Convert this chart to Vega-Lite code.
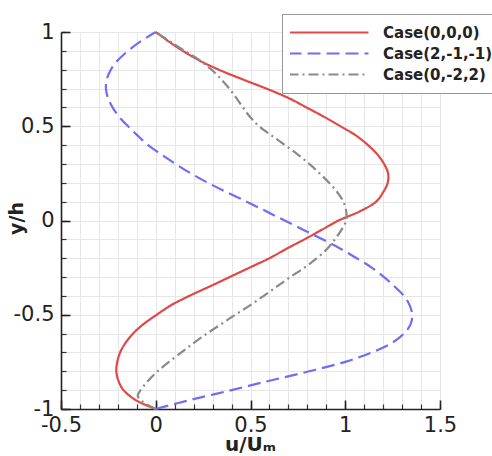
{
  "$schema": "https://vega.github.io/schema/vega-lite/v6.json",
  "width": 379,
  "height": 377,
  "autosize": "none",
  "padding": {"left": 61, "top": 32, "right": 52, "bottom": 47},
  "background": "white",
  "config": {"view": {"stroke": null}},
  "data": {"values": [
    {"case": "Case(0,0,0)", "y": 1.0, "u": 0},
    {"case": "Case(0,0,0)", "y": 0.95, "u": 0.068},
    {"case": "Case(0,0,0)", "y": 0.9, "u": 0.143},
    {"case": "Case(0,0,0)", "y": 0.85, "u": 0.228},
    {"case": "Case(0,0,0)", "y": 0.8, "u": 0.333},
    {"case": "Case(0,0,0)", "y": 0.75, "u": 0.455},
    {"case": "Case(0,0,0)", "y": 0.7, "u": 0.583},
    {"case": "Case(0,0,0)", "y": 0.65, "u": 0.70},
    {"case": "Case(0,0,0)", "y": 0.6, "u": 0.795},
    {"case": "Case(0,0,0)", "y": 0.55, "u": 0.888},
    {"case": "Case(0,0,0)", "y": 0.5, "u": 0.975},
    {"case": "Case(0,0,0)", "y": 0.45, "u": 1.058},
    {"case": "Case(0,0,0)", "y": 0.4, "u": 1.12},
    {"case": "Case(0,0,0)", "y": 0.35, "u": 1.17},
    {"case": "Case(0,0,0)", "y": 0.3, "u": 1.205},
    {"case": "Case(0,0,0)", "y": 0.25, "u": 1.226},
    {"case": "Case(0,0,0)", "y": 0.2, "u": 1.224},
    {"case": "Case(0,0,0)", "y": 0.15, "u": 1.2},
    {"case": "Case(0,0,0)", "y": 0.1, "u": 1.163},
    {"case": "Case(0,0,0)", "y": 0.05, "u": 1.08},
    {"case": "Case(0,0,0)", "y": 0.0, "u": 0.965},
    {"case": "Case(0,0,0)", "y": -0.05, "u": 0.875},
    {"case": "Case(0,0,0)", "y": -0.1, "u": 0.785},
    {"case": "Case(0,0,0)", "y": -0.15, "u": 0.69},
    {"case": "Case(0,0,0)", "y": -0.2, "u": 0.6},
    {"case": "Case(0,0,0)", "y": -0.25, "u": 0.495},
    {"case": "Case(0,0,0)", "y": -0.3, "u": 0.39},
    {"case": "Case(0,0,0)", "y": -0.35, "u": 0.285},
    {"case": "Case(0,0,0)", "y": -0.4, "u": 0.177},
    {"case": "Case(0,0,0)", "y": -0.45, "u": 0.08},
    {"case": "Case(0,0,0)", "y": -0.5, "u": 0.005},
    {"case": "Case(0,0,0)", "y": -0.55, "u": -0.065},
    {"case": "Case(0,0,0)", "y": -0.6, "u": -0.12},
    {"case": "Case(0,0,0)", "y": -0.65, "u": -0.16},
    {"case": "Case(0,0,0)", "y": -0.7, "u": -0.188},
    {"case": "Case(0,0,0)", "y": -0.75, "u": -0.203},
    {"case": "Case(0,0,0)", "y": -0.8, "u": -0.208},
    {"case": "Case(0,0,0)", "y": -0.85, "u": -0.197},
    {"case": "Case(0,0,0)", "y": -0.9, "u": -0.17},
    {"case": "Case(0,0,0)", "y": -0.95, "u": -0.11},
    {"case": "Case(0,0,0)", "y": -0.98, "u": -0.05},
    {"case": "Case(0,0,0)", "y": -1.0, "u": 0},

    {"case": "Case(2,-1,-1)", "y": 1.0, "u": 0},
    {"case": "Case(2,-1,-1)", "y": 0.95, "u": -0.08},
    {"case": "Case(2,-1,-1)", "y": 0.9, "u": -0.146},
    {"case": "Case(2,-1,-1)", "y": 0.85, "u": -0.2},
    {"case": "Case(2,-1,-1)", "y": 0.8, "u": -0.237},
    {"case": "Case(2,-1,-1)", "y": 0.75, "u": -0.258},
    {"case": "Case(2,-1,-1)", "y": 0.7, "u": -0.263},
    {"case": "Case(2,-1,-1)", "y": 0.65, "u": -0.252},
    {"case": "Case(2,-1,-1)", "y": 0.6, "u": -0.228},
    {"case": "Case(2,-1,-1)", "y": 0.55, "u": -0.193},
    {"case": "Case(2,-1,-1)", "y": 0.5, "u": -0.146},
    {"case": "Case(2,-1,-1)", "y": 0.45, "u": -0.095},
    {"case": "Case(2,-1,-1)", "y": 0.4, "u": -0.04},
    {"case": "Case(2,-1,-1)", "y": 0.35, "u": 0.03},
    {"case": "Case(2,-1,-1)", "y": 0.3, "u": 0.105},
    {"case": "Case(2,-1,-1)", "y": 0.25, "u": 0.185},
    {"case": "Case(2,-1,-1)", "y": 0.2, "u": 0.275},
    {"case": "Case(2,-1,-1)", "y": 0.15, "u": 0.375},
    {"case": "Case(2,-1,-1)", "y": 0.1, "u": 0.48},
    {"case": "Case(2,-1,-1)", "y": 0.05, "u": 0.58},
    {"case": "Case(2,-1,-1)", "y": 0.0, "u": 0.68},
    {"case": "Case(2,-1,-1)", "y": -0.05, "u": 0.78},
    {"case": "Case(2,-1,-1)", "y": -0.1, "u": 0.88},
    {"case": "Case(2,-1,-1)", "y": -0.15, "u": 0.975},
    {"case": "Case(2,-1,-1)", "y": -0.2, "u": 1.06},
    {"case": "Case(2,-1,-1)", "y": -0.25, "u": 1.14},
    {"case": "Case(2,-1,-1)", "y": -0.3, "u": 1.205},
    {"case": "Case(2,-1,-1)", "y": -0.35, "u": 1.26},
    {"case": "Case(2,-1,-1)", "y": -0.4, "u": 1.31},
    {"case": "Case(2,-1,-1)", "y": -0.45, "u": 1.34},
    {"case": "Case(2,-1,-1)", "y": -0.5, "u": 1.353},
    {"case": "Case(2,-1,-1)", "y": -0.55, "u": 1.345},
    {"case": "Case(2,-1,-1)", "y": -0.6, "u": 1.31},
    {"case": "Case(2,-1,-1)", "y": -0.65, "u": 1.245},
    {"case": "Case(2,-1,-1)", "y": -0.7, "u": 1.14},
    {"case": "Case(2,-1,-1)", "y": -0.75, "u": 1.0},
    {"case": "Case(2,-1,-1)", "y": -0.8, "u": 0.81},
    {"case": "Case(2,-1,-1)", "y": -0.85, "u": 0.6},
    {"case": "Case(2,-1,-1)", "y": -0.9, "u": 0.4},
    {"case": "Case(2,-1,-1)", "y": -0.95, "u": 0.19},
    {"case": "Case(2,-1,-1)", "y": -1.0, "u": 0},

    {"case": "Case(0,-2,2)", "y": 1.0, "u": 0},
    {"case": "Case(0,-2,2)", "y": 0.95, "u": 0.075},
    {"case": "Case(0,-2,2)", "y": 0.9, "u": 0.152},
    {"case": "Case(0,-2,2)", "y": 0.85, "u": 0.232},
    {"case": "Case(0,-2,2)", "y": 0.8, "u": 0.295},
    {"case": "Case(0,-2,2)", "y": 0.75, "u": 0.345},
    {"case": "Case(0,-2,2)", "y": 0.7, "u": 0.388},
    {"case": "Case(0,-2,2)", "y": 0.65, "u": 0.425},
    {"case": "Case(0,-2,2)", "y": 0.6, "u": 0.46},
    {"case": "Case(0,-2,2)", "y": 0.55, "u": 0.497},
    {"case": "Case(0,-2,2)", "y": 0.5, "u": 0.545},
    {"case": "Case(0,-2,2)", "y": 0.45, "u": 0.612},
    {"case": "Case(0,-2,2)", "y": 0.4, "u": 0.682},
    {"case": "Case(0,-2,2)", "y": 0.35, "u": 0.75},
    {"case": "Case(0,-2,2)", "y": 0.3, "u": 0.81},
    {"case": "Case(0,-2,2)", "y": 0.25, "u": 0.865},
    {"case": "Case(0,-2,2)", "y": 0.2, "u": 0.915},
    {"case": "Case(0,-2,2)", "y": 0.15, "u": 0.958},
    {"case": "Case(0,-2,2)", "y": 0.1, "u": 0.99},
    {"case": "Case(0,-2,2)", "y": 0.05, "u": 1.005},
    {"case": "Case(0,-2,2)", "y": 0.0, "u": 1.005},
    {"case": "Case(0,-2,2)", "y": -0.05, "u": 0.98},
    {"case": "Case(0,-2,2)", "y": -0.1, "u": 0.945},
    {"case": "Case(0,-2,2)", "y": -0.15, "u": 0.905},
    {"case": "Case(0,-2,2)", "y": -0.2, "u": 0.85},
    {"case": "Case(0,-2,2)", "y": -0.25, "u": 0.785},
    {"case": "Case(0,-2,2)", "y": -0.3, "u": 0.71},
    {"case": "Case(0,-2,2)", "y": -0.35, "u": 0.64},
    {"case": "Case(0,-2,2)", "y": -0.4, "u": 0.57},
    {"case": "Case(0,-2,2)", "y": -0.45, "u": 0.497},
    {"case": "Case(0,-2,2)", "y": -0.5, "u": 0.42},
    {"case": "Case(0,-2,2)", "y": -0.55, "u": 0.345},
    {"case": "Case(0,-2,2)", "y": -0.6, "u": 0.27},
    {"case": "Case(0,-2,2)", "y": -0.65, "u": 0.2},
    {"case": "Case(0,-2,2)", "y": -0.7, "u": 0.135},
    {"case": "Case(0,-2,2)", "y": -0.75, "u": 0.07},
    {"case": "Case(0,-2,2)", "y": -0.8, "u": 0.01},
    {"case": "Case(0,-2,2)", "y": -0.85, "u": -0.04},
    {"case": "Case(0,-2,2)", "y": -0.9, "u": -0.08},
    {"case": "Case(0,-2,2)", "y": -0.93, "u": -0.095},
    {"case": "Case(0,-2,2)", "y": -0.96, "u": -0.07},
    {"case": "Case(0,-2,2)", "y": -1.0, "u": 0}
  ]},
  "layer": [
    {
      "mark": {"type": "point", "opacity": 0},
      "encoding": {
        "x": {"field": "u", "type": "quantitative",
          "scale": {"domain": [-0.5, 1.5], "nice": false, "zero": false},
          "axis": {"orient": "bottom", "values": [-0.5,-0.4,-0.3,-0.2,-0.1,0,0.1,0.2,0.3,0.4,0.5,0.6,0.7,0.8,0.9,1,1.1,1.2,1.3,1.4,1.5],
            "labels": false, "title": null, "domain": false, "grid": true, "gridColor": "#e6e6e6", "gridWidth": 1,
            "ticks": true, "tickSize": -5, "tickColor": "#333", "tickWidth": 1.2}},
        "y": {"field": "y", "type": "quantitative",
          "scale": {"domain": [-1, 1], "nice": false, "zero": false},
          "axis": {"orient": "left", "values": [-1,-0.9,-0.8,-0.7,-0.6,-0.5,-0.4,-0.3,-0.2,-0.1,0,0.1,0.2,0.3,0.4,0.5,0.6,0.7,0.8,0.9,1],
            "labels": false, "title": null, "domain": false, "grid": true, "gridColor": "#e6e6e6", "gridWidth": 1,
            "ticks": true, "tickSize": -5, "tickColor": "#333", "tickWidth": 1.2}}
      }
    },
    {
      "mark": {"type": "line", "strokeWidth": 2.2, "interpolate": "catmull-rom"},
      "encoding": {
        "x": {"field": "u", "type": "quantitative",
          "axis": {"orient": "bottom", "values": [-0.5, 0, 0.5, 1, 1.5], "grid": false,
            "domain": true, "domainColor": "#222", "domainWidth": 1.6,
            "ticks": true, "tickSize": -9, "tickColor": "#222", "tickWidth": 1.6,
            "labelExpr": "'' + datum.value",
            "labelFont": "DejaVu Sans", "labelFontSize": 21, "labelColor": "#222", "labelPadding": 14,
            "labelFlush": false, "labelOverlap": false,
            "title": "u/Uₘ", "titleFont": "DejaVu Sans", "titleFontSize": 20, "titleFontWeight": "bold", "titleColor": "#222",
            "titleX": 189, "titleY": 41, "titleBaseline": "alphabetic", "titleAlign": "center"}},
        "y": {"field": "y", "type": "quantitative",
          "axis": {"orient": "left", "values": [-1, -0.5, 0, 0.5, 1], "grid": false,
            "domain": true, "domainColor": "#222", "domainWidth": 1.6,
            "ticks": true, "tickSize": -9, "tickColor": "#222", "tickWidth": 1.6,
            "labelExpr": "'' + datum.value",
            "labelFont": "DejaVu Sans", "labelFontSize": 21, "labelColor": "#222", "labelPadding": 16,
            "labelFlush": false, "labelOverlap": false,
            "title": "y/h", "titleFont": "DejaVu Sans", "titleFontSize": 19, "titleFontWeight": "bold", "titleColor": "#222",
            "titleX": -45, "titleY": 186, "titleAngle": -90, "titleBaseline": "middle", "titleAlign": "center"}},
        "order": {"field": "y", "type": "quantitative"},
        "color": {"field": "case", "type": "nominal",
          "scale": {"domain": ["Case(0,0,0)", "Case(2,-1,-1)", "Case(0,-2,2)"], "range": ["#e04848", "#6e6ef2", "#8a8a8a"]},
          "legend": {"orient": "none", "legendX": 221, "legendY": -18, "title": null,
            "fillColor": "white", "strokeColor": "#999", "padding": 8,
            "symbolType": "stroke", "symbolSize": 6400, "symbolStrokeWidth": 2.2, "symbolOffset": -3,
            "clipHeight": 21, "rowPadding": 0,
            "labelOffset": 13, "labelFont": "DejaVu Sans", "labelFontWeight": "bold", "labelFontSize": 15, "labelColor": "#222", "labelLimit": 300}},
        "strokeDash": {"field": "case", "type": "nominal",
          "scale": {"domain": ["Case(0,0,0)", "Case(2,-1,-1)", "Case(0,-2,2)"], "range": [[1, 0], [13, 6], [10, 4, 2, 4]]},
          "legend": {"orient": "none", "legendX": 221, "legendY": -18, "title": null,
            "fillColor": "white", "strokeColor": "#999", "padding": 8,
            "symbolType": "stroke", "symbolSize": 6400, "symbolStrokeWidth": 2.2, "symbolOffset": -3,
            "clipHeight": 21, "rowPadding": 0,
            "labelOffset": 13, "labelFont": "DejaVu Sans", "labelFontWeight": "bold", "labelFontSize": 15, "labelColor": "#222", "labelLimit": 300}}
      }
    }
  ],
  "resolve": {"axis": {"x": "independent", "y": "independent"}}
}
